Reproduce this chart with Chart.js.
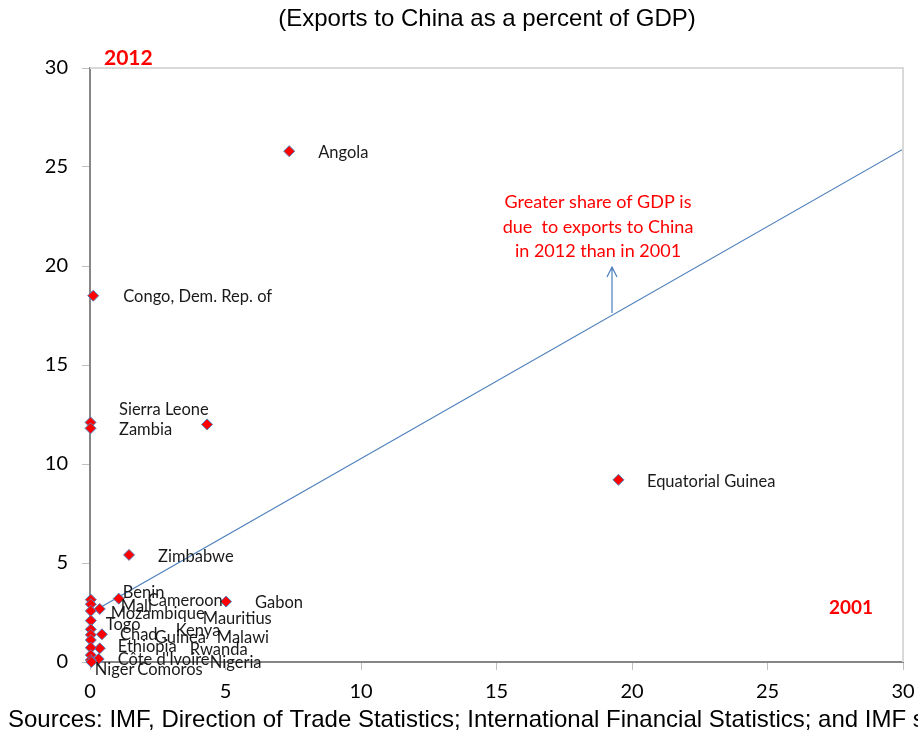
<!DOCTYPE html>
<html>
<head>
<meta charset="utf-8">
<script src="https://cdn.jsdelivr.net/npm/chart.js@4/dist/chart.umd.min.js"></script>
<style>
html,body{margin:0;padding:0;background:#fff;}
#wrap{width:918px;height:736px;position:relative;}
</style>
</head>
<body>
<div id="wrap"><canvas id="c" width="918" height="736"></canvas></div>
<script>
// ---- data ----
const countries = ["Angola","Congo, Dem. Rep. of","Sierra Leone","Zambia","","Equatorial Guinea","Zimbabwe","Gabon","Cameroon","Benin","Mali","Mozambique","Mauritius","Togo","Kenya","Chad","Guinea","Malawi","Ethiopia","Rwanda","Côte d'Ivoire","Nigeria","Niger","Comoros"];
const exports2001 = [7.35,0.12,0.02,0.02,4.32,19.5,1.44,5.02,1.06,0.03,0.03,0.36,0.03,0.03,0.03,0.44,0.03,0.03,0.36,0.03,0.32,0.03,0.03,0.05];
const exports2012 = [25.8,18.5,12.1,11.8,12.0,9.2,5.41,3.05,3.2,3.15,2.92,2.68,2.58,2.09,1.65,1.4,1.37,1.11,0.69,0.72,0.15,0.35,0.1,0.0];
const lineX = [0.1,30];
const lineY = [2.54,25.9];
const xTicks = [0,5,10,15,20,25,30];
const yTicks = [0,5,10,15,20,25,30];
const titleText = "(Exports to China as a percent of GDP)";
const sourceText = "Sources: IMF, Direction of Trade Statistics; International Financial Statistics; and IMF staff calculations.";
const noteLines = ["Greater share of GDP is","due  to exports to China","in 2012 than in 2001"];

// label offsets (pixels from each marker) - styling only
const labelOffsets = {
 "Angola":[29,2],"Congo, Dem. Rep. of":[30,1],"Sierra Leone":[28.5,-13],"Zambia":[28.5,1],
 "Equatorial Guinea":[28.5,2],"Zimbabwe":[29,2],"Gabon":[29,1],"Cameroon":[29,2],"Benin":[32,-7],
 "Mali":[30,2],"Mozambique":[11,5],"Mauritius":[112,8],"Togo":[15,4],"Kenya":[85,1],"Chad":[18,0],
 "Guinea":[64,3],"Malawi":[126,-2],"Ethiopia":[18,-2],"Rwanda":[99,2],"Côte d'Ivoire":[19,1],
 "Nigeria":[119,8],"Niger":[4,10],"Comoros":[46,8]
};

const points = exports2001.map((x,i)=>({x:x,y:exports2012[i]}));
const linePts = lineX.map((x,i)=>({x:x,y:lineY[i]}));

const decor = {
  id:'decor',
  afterDraw(chart){
    const ctx = chart.ctx, ca = chart.chartArea;
    ctx.save();
    // top & right border
    ctx.strokeStyle = '#d9d9d9'; ctx.lineWidth = 2;
    ctx.beginPath(); ctx.moveTo(ca.left, ca.top); ctx.lineTo(ca.right, ca.top); ctx.lineTo(ca.right, ca.bottom); ctx.stroke();
    // title
    ctx.fillStyle = '#000'; ctx.textAlign='center'; ctx.textBaseline='middle';
    ctx.font = '24px "Liberation Sans", Arial, sans-serif';
    ctx.fillText(titleText, 487, 19);
    // sources
    ctx.textAlign='left';
    ctx.fillText(sourceText, 8, 720);
    // 2012 / 2001
    ctx.fillStyle = '#ff0000';
    ctx.font = 'bold 21px Lato, sans-serif';
    ctx.fillText('2012', 104, 58);
    ctx.font = 'bold 19px Lato, sans-serif';
    ctx.fillText('2001', 829, 608);
    // note
    ctx.font = '18px Lato, sans-serif'; ctx.textAlign='center';
    const ny=[202,227,251];
    noteLines.forEach((t,i)=>ctx.fillText(t, 598, ny[i]));
    // arrow
    ctx.strokeStyle = '#4a7ebb'; ctx.lineWidth = 1.2;
    ctx.beginPath(); ctx.moveTo(612,313); ctx.lineTo(612,268);
    ctx.moveTo(607,277); ctx.lineTo(612,267); ctx.lineTo(617,277); ctx.stroke();
    // country labels
    const meta = chart.getDatasetMeta(1);
    ctx.fillStyle = '#1a1a1a'; ctx.textAlign='left'; ctx.textBaseline='middle';
    ctx.font = '16.5px Lato, sans-serif';
    countries.forEach((name,i)=>{
      if(!name) return;
      const el = meta.data[i]; const off = labelOffsets[name] || [29,2];
      ctx.fillText(name, el.x + off[0], el.y + off[1]);
    });
    ctx.restore();
  }
};

new Chart(document.getElementById('c'), {
  type:'scatter',
  data:{datasets:[
    {type:'line', data:linePts, borderColor:'#4a7ebb', borderWidth:1.2, pointRadius:0, fill:false, tension:0, order:2},
    {data:points, pointStyle:'rectRot', pointRadius:5.5, pointHoverRadius:5.5, backgroundColor:'#ff0000', borderColor:'#4f81bd', borderWidth:1, clip:false, order:1}
  ]},
  options:{
    responsive:false, animation:false, devicePixelRatio:1,
    layout:{padding:{top:68,right:15,left:0,bottom:0}},
    plugins:{legend:{display:false}, tooltip:{enabled:false}},
    scales:{
      x:{type:'linear', min:0, max:30,
        afterBuildTicks(s){ s.ticks = xTicks.map(v=>({value:v})); },
        afterFit(s){ s.height = 74; s.paddingLeft = 0; s.paddingRight = 0; },
        grid:{drawOnChartArea:false, drawTicks:true, tickLength:8, color:'#bfbfbf'},
        border:{display:true, color:'#868686', width:2},
        ticks:{font:{family:'Lato', size:20}, color:'#000', padding:10, maxRotation:0}
      },
      y:{type:'linear', min:0, max:30,
        afterBuildTicks(s){ s.ticks = yTicks.map(v=>({value:v})); },
        afterFit(s){ s.width = 90; s.paddingTop = 0; s.paddingBottom = 0; },
        grid:{drawOnChartArea:false, drawTicks:true, tickLength:8, color:'#bfbfbf'},
        border:{display:true, color:'#868686', width:2},
        ticks:{font:{family:'Lato', size:20}, color:'#000', padding:14}
      }
    }
  },
  plugins:[decor]
});
</script>
</body>
</html>
